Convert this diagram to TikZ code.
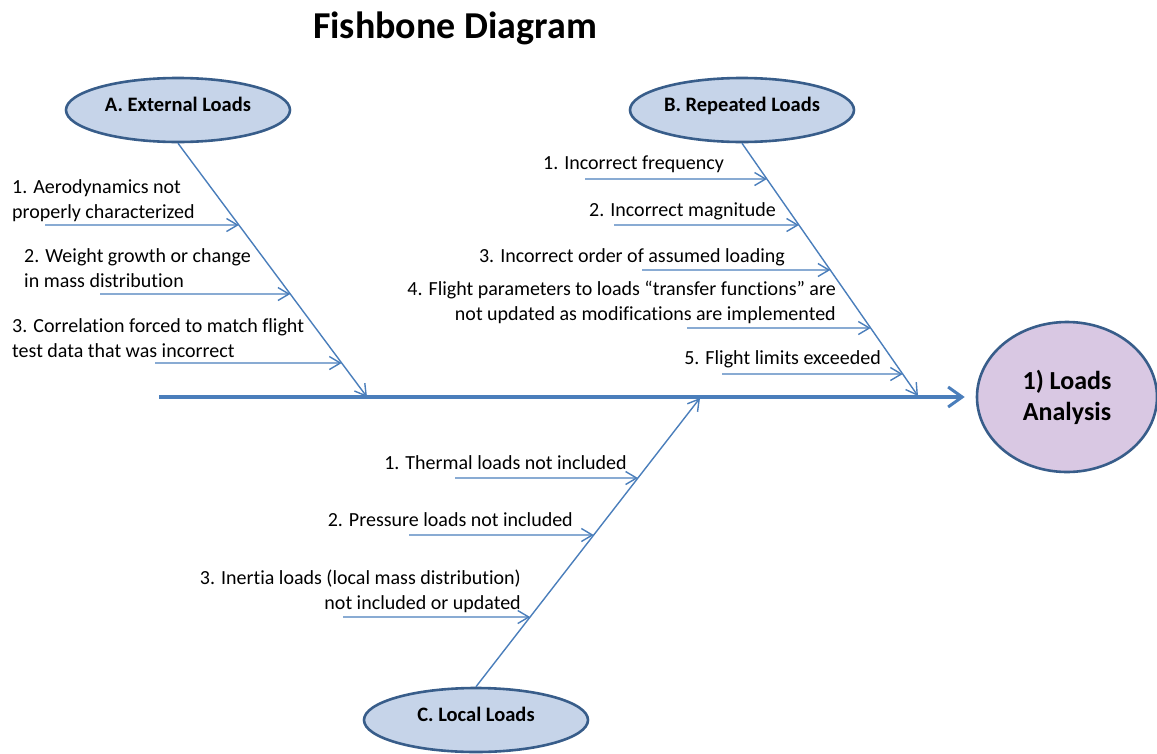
\documentclass[tikz,border=0pt]{standalone}
\usepackage{fontspec}
\setmainfont{Carlito}[Ligatures=NoCommon]
\usetikzlibrary{arrows.meta,shapes.geometric}
\definecolor{boneblue}{HTML}{4A7EBB}
\definecolor{rimblue}{HTML}{385D8A}
\definecolor{causefill}{HTML}{C6D4E9}
\definecolor{effectfill}{HTML}{D9C8E3}
\begin{document}
\begin{tikzpicture}[x=1pt,y=-1pt,
  cause/.style={ellipse, draw=rimblue, line width=2.6pt, fill=causefill,
    minimum width=224pt, minimum height=64pt, inner sep=0pt,
    font=\bfseries\fontsize{20.5}{24}\selectfont, text height=13pt, text depth=11pt},
  effect/.style={ellipse, draw=rimblue, line width=2.6pt, fill=effectfill,
    minimum width=180pt, minimum height=150pt, inner sep=0pt, align=center,
    font=\bfseries\fontsize{26}{31}\selectfont},
  spine/.style={draw=boneblue, line width=3.5pt,
    -{Straight Barb[length=14pt,width=20pt,line width=3pt]}, shorten >=11pt},
  bone/.style={draw=boneblue, line width=1.4pt,
    -{Straight Barb[length=11pt,width=13pt]}},
  subarrow/.style={draw=boneblue, line width=1.4pt,
    -{Straight Barb[length=11pt,width=13pt]}},
  txtl/.style={anchor=base west, inner sep=0pt, align=left,
    font=\fontsize{20}{24.5}\selectfont},
  txtr/.style={anchor=base east, inner sep=0pt, align=right,
    font=\fontsize{20}{24.5}\selectfont},
  heading/.style={anchor=base, inner sep=0pt, font=\bfseries\fontsize{38}{44}\selectfont}
]
\useasboundingbox (0,0) rectangle (1157,753);

% title
\node[heading] (title) at (455,38) {Fishbone Diagram};

% head of the fish and the main categories
\node[effect] (E) at (1067,397) {1) Loads\\Analysis};
\node[cause] (A) at (178,110) {A. External Loads};
\node[cause] (B) at (742,110) {B. Repeated Loads};
\node[cause] (C) at (476,720) {C. Local Loads};

% spine
\coordinate (tail) at (159,397);
\draw[spine] (tail) -- (E);

% main bones
\coordinate (Atip) at (367,397);
\coordinate (Btip) at (918,396);
\coordinate (Ctip) at (700,398);
\draw[bone] (A.south) -- (Atip);
\draw[bone] (B.south) -- (Btip);
\draw[bone] (C.north) -- (Ctip);

% A. External Loads (two-line labels are placed by their last baseline)
\coordinate (a1s) at (45,225);
\coordinate (a2s) at (100,294);
\coordinate (a3s) at (155,363);
\coordinate (a1e) at (intersection of A.south--Atip and 0,225--100,225);
\coordinate (a2e) at (intersection of A.south--Atip and 0,294--100,294);
\coordinate (a3e) at (intersection of A.south--Atip and 0,363--100,363);
\draw[subarrow] (a1s) -- (a1e);
\draw[subarrow] (a2s) -- (a2e);
\draw[subarrow] (a3s) -- (a3e);
\node[txtl] (ta1) at (12,218) {1. Aerodynamics not\\properly characterized};
\node[txtl] (ta2) at (24,287) {2. Weight growth or change\\in mass distribution};
\node[txtl] (ta3) at (12,357) {3. Correlation forced to match flight\\test data that was incorrect};

% B. Repeated Loads
\coordinate (b1s) at (585,179);
\coordinate (b2s) at (614,225);
\coordinate (b3s) at (642,270);
\coordinate (b4s) at (687,328);
\coordinate (b5s) at (722,374);
\coordinate (b1e) at (intersection of B.south--Btip and 0,179--100,179);
\coordinate (b2e) at (intersection of B.south--Btip and 0,225--100,225);
\coordinate (b3e) at (intersection of B.south--Btip and 0,270--100,270);
\coordinate (b4e) at (intersection of B.south--Btip and 0,328--100,328);
\coordinate (b5e) at (intersection of B.south--Btip and 0,374--100,374);
\draw[subarrow] (b1s) -- (b1e);
\draw[subarrow] (b2s) -- (b2e);
\draw[subarrow] (b3s) -- (b3e);
\draw[subarrow] (b4s) -- (b4e);
\draw[subarrow] (b5s) -- (b5e);
\node[txtr] (tb1) at (724,169) {1. Incorrect frequency};
\node[txtr] (tb2) at (776,216) {2. Incorrect magnitude};
\node[txtr] (tb3) at (785,262) {3. Incorrect order of assumed loading};
\node[txtr] (tb4) at (836,320) {4. Flight parameters to loads “transfer functions” are\\not updated as modifications are implemented};
\node[txtr] (tb5) at (881,364) {5. Flight limits exceeded};

% C. Local Loads
\coordinate (c1s) at (455,478);
\coordinate (c2s) at (409,535);
\coordinate (c3s) at (343,617);
\coordinate (c1e) at (intersection of C.north--Ctip and 0,478--100,478);
\coordinate (c2e) at (intersection of C.north--Ctip and 0,535--100,535);
\coordinate (c3e) at (intersection of C.north--Ctip and 0,617--100,617);
\draw[subarrow] (c1s) -- (c1e);
\draw[subarrow] (c2s) -- (c2e);
\draw[subarrow] (c3s) -- (c3e);
\node[txtr] (tc1) at (627,469) {1. Thermal loads not included};
\node[txtr] (tc2) at (573,526) {2. Pressure loads not included};
\node[txtr] (tc3) at (521,609) {3. Inertia loads (local mass distribution)\\not included or updated};
\end{tikzpicture}
\end{document}
